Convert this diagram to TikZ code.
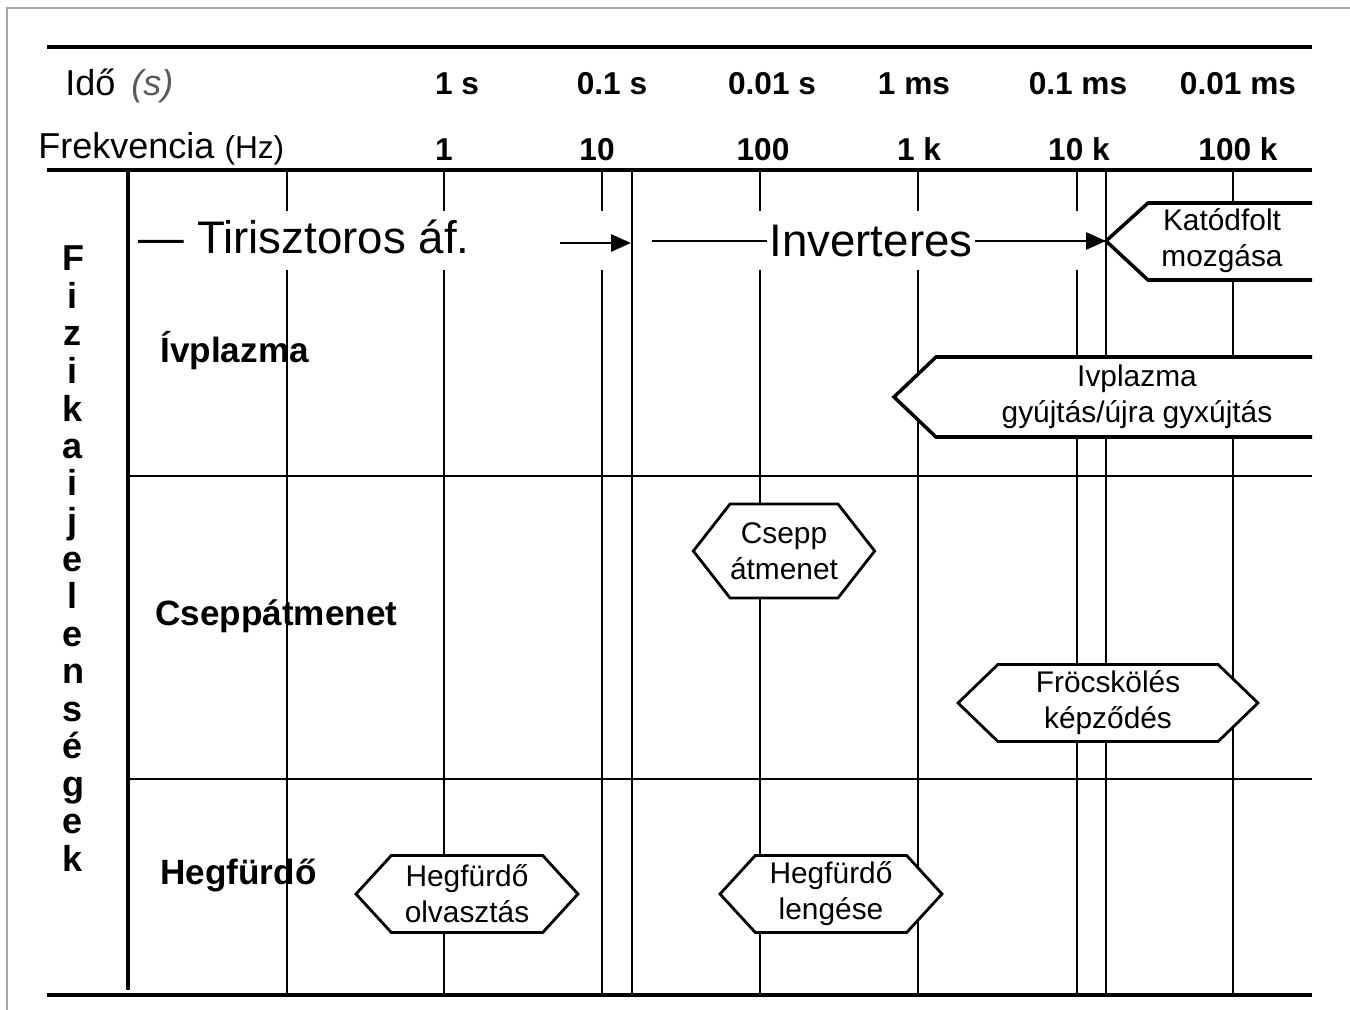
\documentclass[tikz,border=0pt]{standalone}
\usepackage{fontspec}
\setmainfont{Liberation Sans}
\setsansfont{Liberation Sans}
\usetikzlibrary{shapes.symbols, arrows.meta, positioning, calc}

\newcommand{\bigfont}{\fontsize{26}{30}\selectfont}
\newcommand{\tickfont}{\fontsize{18}{21}\selectfont\bfseries}
\newcommand{\headfont}{\fontsize{20.5}{24}\selectfont}
\newcommand{\rowfont}{\fontsize{20}{23}\selectfont\bfseries}
\newcommand{\boxfont}{\fontsize{17}{20.5}\selectfont}
\newcommand{\vertfont}{\fontsize{20.5}{24}\selectfont\bfseries}

\begin{document}
\begin{tikzpicture}[x=0.02cm, y=-0.02cm]
    \tikzstyle{thickline} = [line width=2.8pt]
    \tikzstyle{thinline} = [line width=1.1pt]
    \tikzstyle{tick} = [font=\tickfont, anchor=base, inner sep=0pt]
    \tikzstyle{rowlabel} = [font=\rowfont, anchor=base west, inner sep=0pt]
    \tikzstyle{hexa} = [shape=signal, signal to=west and east, draw=black, fill=white, line width=1.6pt, inner sep=0pt, align=center, font=\boxfont]
    \tikzstyle{openbox} = [draw=black, fill=white, line width=2pt]
    \tikzstyle{boxtext} = [align=center, font=\boxfont, inner sep=0pt]
    \tikzstyle{arrow} = [line width=1.6pt, -{Triangle[length=4mm, width=3.4mm]}]
    \useasboundingbox (0,0) rectangle (1350,1010);
    % frame
    \draw[gray!70, line width=1pt] (7,1010) -- (7,8) -- (1350,8);
    % header rows
    \node (ido) [font=\headfont, anchor=base west, inner sep=0pt] at (65,96) {Idő \,{\itshape\color{gray!70!black}(s)}};
    \node (frek) [font=\headfont, anchor=base west, inner sep=0pt] at (38,159) {Frekvencia {\fontsize{18}{21}\selectfont(Hz)}};
    \foreach \x/\t [count=\i] in {457/1 s, 612/0.1 s, 772/0.01 s, 914/1 ms, 1078/0.1 ms, 1238/0.01 ms}
      \node (time\i) [tick] at (\x,95) {\t};
    \foreach \x/\t [count=\i] in {444/1, 597/10, 763/100, 919/1 k, 1079/10 k, 1238/100 k}
      \node (freq\i) [tick] at (\x,161) {\t};
    % rules
    \draw[thickline] (47,47) -- (1312,47);
    \draw[thickline] (47,170) -- (1312,170);
    \draw[thickline] (47,995) -- (1312,995);
    \draw[thickline] (128,170) -- (128,990);
    \draw[thinline] (128,476) -- (1312,476);
    \draw[thinline] (128,779) -- (1312,779);
    % decade lines (broken in the regime row)
    \foreach \x in {287, 444, 602, 760, 918, 1077} {
      \draw[thinline] (\x,170) -- (\x,211);
      \draw[thinline] (\x,270) -- (\x,995);
    }
    \foreach \x in {632, 1106, 1233}
      \draw[thinline] (\x,170) -- (\x,995);
    % vertical title
    \foreach \c [count=\i from 0] in {F,i,z,i,k,a,i,j,e,l,e,n,s,é,g,e,k}
      \node (fj\i) [font=\vertfont, anchor=base, inner sep=0pt] at (73,271+37.5*\i) {\c};
    % row labels
    \node (ivp) [rowlabel] at (160,363) {Ívplazma};
    \node (csa) [rowlabel] at (155,625) {Cseppátmenet};
    \node (hegf) [rowlabel] at (160,884) {Hegfürdő};
    % regimes
    \coordinate (tira) at (560,243);
    \coordinate (tirb) at (631,243);
    \coordinate (inva) at (652,241);
    \coordinate (kattip) at (1106,241);
    \node (tir) [font=\bigfont, anchor=base east, inner sep=0pt] at (470,254) {— Tirisztoros áf.};
    \node (inv) [font=\bigfont, anchor=base, inner sep=1pt] at (871,257) {Inverteres};
    \draw[arrow] (tira) -- (tirb);
    \draw[line width=1.6pt] (inva) -- (inv.west |- inva);
    \draw[arrow] (inv.east |- kattip) -- (kattip);
    % open boxes on the right
    \draw[openbox] (1312,203) -- (1148,203) -- (kattip) -- (1148,280) -- (1312,280);
    \node (kat) [boxtext] at (1222,241) {Katódfolt\\mozgása};
    \draw[openbox] (1312,357) -- (936,357) -- (894,397) -- (936,437) -- (1312,437);
    \node (ivgy) [boxtext] at (1137,397) {Ivplazma\\gyújtás/újra gyxújtás};
    % hexagons
    \node (csepp) [hexa, minimum width=3.44cm, minimum height=1.88cm, signal pointer angle=104] at (784,551) {Csepp\\átmenet};
    \node (frocs) [hexa, minimum width=6cm, minimum height=1.54cm, signal pointer angle=88] at (1108,703) {Fröcskölés\\képződés};
    \node (olv) [hexa, minimum width=4.44cm, minimum height=1.54cm, signal pointer angle=95] at (467,894) {Hegfürdő\\olvasztás};
    \node (leng) [hexa, minimum width=4.44cm, minimum height=1.54cm, signal pointer angle=95] at (831,894) {Hegfürdő\\lengése};
\end{tikzpicture}
\end{document}
